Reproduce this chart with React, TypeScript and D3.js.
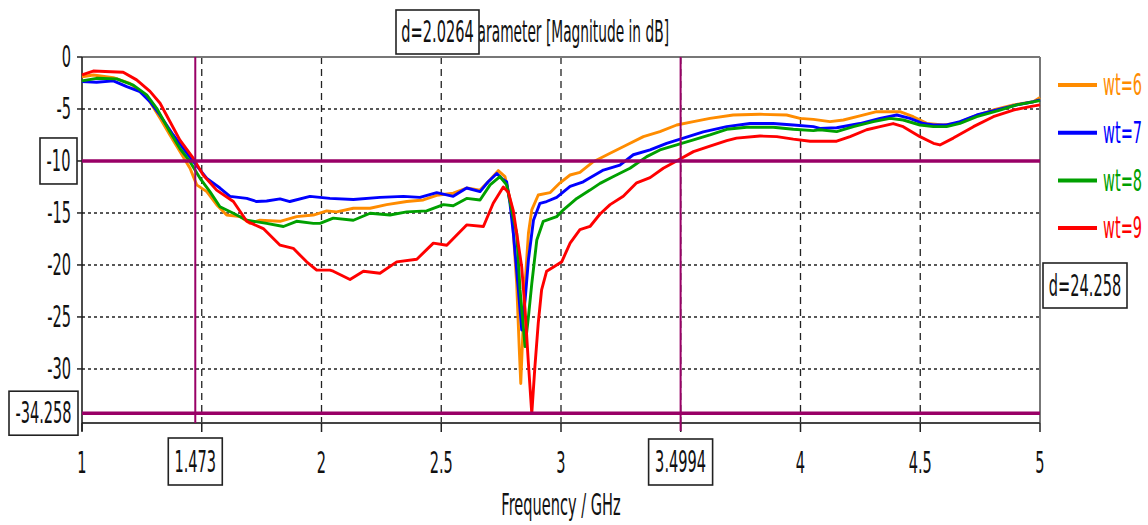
import React from "react";
import * as d3 from "d3";

// ---- data (GHz, dB) ----
const wt6: [number, number][] = [[1.0,-1.9],[1.047,-1.73],[1.131,-1.99],[1.2,-2.53],[1.27,-3.8],[1.326,-5.9],[1.367,-7.5],[1.409,-9.1],[1.451,-10.7],[1.479,-12.3],[1.521,-12.95],[1.562,-14.2],[1.604,-15.2],[1.66,-15.35],[1.701,-16.0],[1.743,-15.7],[1.827,-15.8],[1.896,-15.35],[1.966,-15.2],[2.022,-14.8],[2.063,-14.9],[2.133,-14.55],[2.203,-14.55],[2.272,-14.2],[2.356,-13.9],[2.425,-13.75],[2.481,-13.3],[2.55,-13.1],[2.606,-12.6],[2.662,-12.8],[2.704,-11.8],[2.738,-10.93],[2.766,-11.5],[2.794,-14.4],[2.815,-21.8],[2.826,-28.2],[2.832,-31.4],[2.84,-26.9],[2.85,-21.8],[2.864,-16.95],[2.878,-14.7],[2.905,-13.27],[2.954,-13.05],[2.996,-12.1],[3.038,-11.35],[3.079,-11.1],[3.135,-10.07],[3.205,-9.26],[3.274,-8.46],[3.344,-7.66],[3.413,-7.18],[3.483,-6.54],[3.553,-6.22],[3.622,-5.9],[3.719,-5.58],[3.831,-5.51],[3.942,-5.58],[3.998,-5.9],[4.054,-6.0],[4.123,-6.22],[4.179,-6.06],[4.248,-5.67],[4.318,-5.26],[4.415,-5.26],[4.471,-5.74],[4.527,-6.38],[4.596,-6.54],[4.652,-6.38],[4.722,-5.74],[4.805,-5.1],[4.889,-4.6],[4.972,-4.3],[5.0,-3.9]];
const wt7: [number, number][] = [[1.0,-2.37],[1.061,-2.43],[1.131,-2.3],[1.187,-2.85],[1.242,-3.33],[1.284,-4.3],[1.326,-5.6],[1.381,-7.5],[1.423,-8.8],[1.465,-10.07],[1.521,-11.67],[1.576,-12.6],[1.618,-13.4],[1.688,-13.6],[1.729,-13.9],[1.771,-13.85],[1.827,-13.65],[1.868,-13.9],[1.952,-13.4],[2.035,-13.6],[2.133,-13.7],[2.244,-13.5],[2.342,-13.4],[2.411,-13.5],[2.481,-13.05],[2.55,-13.4],[2.606,-12.6],[2.662,-12.95],[2.696,-12.0],[2.732,-11.2],[2.759,-11.8],[2.773,-12.0],[2.787,-14.07],[2.801,-16.95],[2.822,-22.4],[2.836,-26.25],[2.85,-23.4],[2.864,-19.5],[2.885,-15.7],[2.912,-14.07],[2.94,-13.9],[2.982,-13.5],[3.038,-12.45],[3.093,-12.0],[3.107,-11.8],[3.177,-10.87],[3.246,-10.4],[3.302,-9.4],[3.372,-8.94],[3.441,-8.3],[3.511,-7.8],[3.594,-7.2],[3.692,-6.7],[3.789,-6.4],[3.886,-6.4],[3.97,-6.54],[4.054,-6.7],[4.081,-6.86],[4.151,-6.8],[4.248,-6.4],[4.332,-5.9],[4.402,-5.58],[4.457,-5.9],[4.513,-6.4],[4.555,-6.54],[4.61,-6.54],[4.666,-6.22],[4.736,-5.58],[4.819,-5.1],[4.903,-4.6],[4.972,-4.3],[5.0,-4.13]];
const wt8: [number, number][] = [[1.0,-2.3],[1.061,-2.05],[1.145,-2.1],[1.214,-2.7],[1.27,-3.65],[1.312,-4.93],[1.367,-7.2],[1.409,-8.8],[1.451,-10.07],[1.493,-11.67],[1.534,-12.95],[1.576,-14.4],[1.632,-15.03],[1.688,-15.7],[1.771,-16.0],[1.841,-16.3],[1.896,-15.8],[1.966,-16.0],[1.994,-16.0],[2.049,-15.5],[2.133,-15.7],[2.203,-15.03],[2.286,-15.2],[2.356,-14.9],[2.439,-14.8],[2.509,-14.2],[2.55,-14.3],[2.606,-13.6],[2.662,-13.75],[2.704,-12.3],[2.745,-11.5],[2.773,-12.3],[2.801,-15.5],[2.815,-16.95],[2.829,-22.4],[2.85,-27.85],[2.864,-25.0],[2.878,-21.8],[2.899,-17.6],[2.926,-15.8],[2.982,-15.35],[3.01,-14.7],[3.066,-13.6],[3.121,-12.8],[3.163,-12.15],[3.219,-11.5],[3.288,-10.7],[3.358,-9.58],[3.413,-8.94],[3.483,-8.46],[3.553,-7.98],[3.622,-7.5],[3.692,-6.95],[3.775,-6.76],[3.886,-6.76],[3.97,-6.95],[4.054,-7.08],[4.081,-7.0],[4.151,-7.18],[4.221,-6.7],[4.304,-6.22],[4.374,-5.9],[4.429,-6.06],[4.499,-6.54],[4.555,-6.7],[4.61,-6.7],[4.666,-6.38],[4.736,-5.74],[4.833,-5.1],[4.903,-4.6],[5.0,-4.2]];
const wt9: [number, number][] = [[1.0,-1.73],[1.047,-1.35],[1.172,-1.47],[1.228,-2.2],[1.284,-3.3],[1.326,-4.45],[1.367,-6.2],[1.409,-8.0],[1.465,-9.75],[1.506,-11.35],[1.562,-12.8],[1.632,-13.9],[1.688,-15.8],[1.757,-16.5],[1.827,-18.1],[1.882,-18.4],[1.938,-19.7],[1.98,-20.5],[2.035,-20.5],[2.049,-20.6],[2.119,-21.4],[2.175,-20.6],[2.244,-20.8],[2.314,-19.7],[2.398,-19.45],[2.467,-17.9],[2.523,-18.1],[2.606,-16.15],[2.676,-16.3],[2.717,-14.07],[2.759,-12.5],[2.78,-13.0],[2.801,-14.8],[2.815,-16.95],[2.836,-20.2],[2.85,-24.3],[2.864,-29.5],[2.878,-34.3],[2.891,-29.8],[2.905,-25.6],[2.919,-22.4],[2.94,-20.6],[2.982,-20.0],[3.003,-19.7],[3.038,-17.9],[3.079,-16.6],[3.121,-16.3],[3.163,-15.1],[3.205,-14.2],[3.26,-13.4],[3.316,-12.1],[3.372,-11.6],[3.427,-10.7],[3.49,-9.9],[3.553,-9.1],[3.622,-8.56],[3.692,-8.05],[3.733,-7.8],[3.831,-7.6],[3.901,-7.66],[3.97,-7.9],[4.04,-8.1],[4.151,-8.1],[4.207,-7.66],[4.276,-7.0],[4.332,-6.7],[4.387,-6.4],[4.429,-6.7],[4.499,-7.66],[4.555,-8.3],[4.582,-8.46],[4.638,-7.8],[4.722,-6.7],[4.805,-5.74],[4.889,-5.1],[4.958,-4.78],[5.0,-4.6]];

const seriesNames = ["wt=6", "wt=7", "wt=8", "wt=9"];
const seriesData = [wt6, wt7, wt8, wt9];
const seriesColors = ["#ff8c00", "#0000ff", "#00a000", "#ff0000"];

const xTicks = [1, 1.5, 2, 2.5, 3, 3.5, 4, 4.5, 5];
const xTickLabels = ["1", "", "2", "2.5", "3", "", "4", "4.5", "5"];
const yTicks = [0, -5, -10, -15, -20, -25, -30];
const yTickLabels = ["0", "-5", "", "-15", "-20", "-25", "-30"];

const markerX1 = 1.473;
const markerX2 = 3.4994;
const markerY1 = -10;
const markerY2 = -34.258;
const title = "S-Parameter [Magnitude in dB]";
const xTitle = "Frequency / GHz";

const W = 1148, H = 525;
const L = 82, R = 1040, T = 57, B = 423;
const SX = 0.47;
const FONT = "DejaVu Sans, Verdana, sans-serif";
const MK = "#990066";

function Lbl({ x, y, text, size = 31, anchor = "middle", color = "#111" }: any) {
  return (
    <text
      transform={`translate(${x},${y}) scale(${SX},1)`}
      textAnchor={anchor}
      dominantBaseline="central"
      fontFamily={FONT}
      fontSize={size}
      fill={color}
    >
      {text}
    </text>
  );
}

function Box({ x0, y0, x1, y1, text }: any) {
  return (
    <g>
      <rect x={x0} y={y0} width={x1 - x0} height={y1 - y0} fill="#fff" stroke="#222" strokeWidth={1.6} />
      <Lbl x={(x0 + x1) / 2} y={(y0 + y1) / 2} text={text} />
    </g>
  );
}

export default function App() {
  const x = d3.scaleLinear().domain([1, 5]).range([L, R]);
  const y = d3.scaleLinear().domain([-35.2, 0]).range([B, T]);
  const line = d3
    .line<[number, number]>()
    .x((d) => x(d[0]))
    .y((d) => y(d[1]))
    .curve(d3.curveLinear);

  const mx1 = x(markerX1), mx2 = x(markerX2), my1 = y(markerY1), my2 = y(markerY2);

  return (
    <svg width={W} height={H} style={{ display: "block", position: "absolute", left: 0, top: 0, background: "#fff" }}>
      <rect x={0} y={0} width={W} height={H} fill="#fff" />
      {/* grid */}
      {xTicks.filter((t) => t > 1 && t < 5).map((t) => (
        <line key={"gx" + t} x1={x(t)} x2={x(t)} y1={T} y2={B} stroke="#222" strokeWidth={1.3} strokeDasharray="7,5" />
      ))}
      {[-5, -10, -15, -20, -25, -30].map((t) => (
        <line key={"gy" + t} x1={L} x2={R} y1={y(t)} y2={y(t)} stroke="#222" strokeWidth={1.5} strokeDasharray="3,3" />
      ))}
      {/* frame */}
      <line x1={L} x2={R} y1={T} y2={T} stroke="#777" strokeWidth={2} />
      <line x1={R} x2={R} y1={T} y2={B} stroke="#777" strokeWidth={2} />
      <line x1={L} x2={R} y1={B} y2={B} stroke="#444" strokeWidth={2} />
      <line x1={L} x2={L} y1={T} y2={B + 8} stroke="#111" strokeWidth={1.5} />
      {xTicks.map((t) => (
        <line key={"tx" + t} x1={x(t)} x2={x(t)} y1={B} y2={B + 9} stroke="#222" strokeWidth={1.5} />
      ))}
      {yTicks.map((t) => (
        <line key={"ty" + t} x1={L - 5} x2={L} y1={y(t)} y2={y(t)} stroke="#222" strokeWidth={1.5} />
      ))}
      {/* curves */}
      {seriesData.map((s, i) => (
        <path key={seriesNames[i]} d={line(s) || ""} fill="none" stroke={seriesColors[i]} strokeWidth={2.9} strokeLinejoin="round" />
      ))}
      {/* markers */}
      <line x1={L} x2={R} y1={my1} y2={my1} stroke={MK} strokeWidth={3.5} />
      <line x1={L} x2={R} y1={my2} y2={my2} stroke={MK} strokeWidth={3.5} />
      <line x1={mx1} x2={mx1} y1={T} y2={B} stroke={MK} strokeWidth={2} />
      <line x1={mx2} x2={mx2} y1={T} y2={B + 8} stroke={MK} strokeWidth={2} />
      {/* tick labels */}
      {yTicks.map((t, i) =>
        yTickLabels[i] ? <Lbl key={"ly" + t} x={71} y={y(t)} text={yTickLabels[i]} anchor="end" /> : null
      )}
      {xTicks.map((t, i) =>
        xTickLabels[i] ? <Lbl key={"lx" + t} x={x(t)} y={463} text={xTickLabels[i]} /> : null
      )}
      {/* titles */}
      <Lbl x={669} y={32} text={title} size={29.3} anchor="end" />
      <Lbl x={(L + R) / 2} y={505} text={xTitle} />
      {/* marker boxes */}
      <Box x0={40} y0={my1 - 23} x1={77} y1={my1 + 23} text={markerY1.toString()} />
      <Box x0={9} y0={my2 - 22} x1={78} y1={my2 + 22} text={markerY2.toString()} />
      <Box x0={mx1 - 27} y0={438} x1={mx1 + 27} y1={485} text={markerX1.toString()} />
      <Box x0={mx2 - 32} y0={439} x1={mx2 + 32} y1={485} text={markerX2.toString()} />
      <Box x0={396} y0={10} x1={479} y1={54} text={"d=" + (markerX2 - markerX1).toFixed(4)} />
      <Box x0={1043} y0={263} x1={1127} y1={308} text={"d=" + (markerY1 - markerY2).toFixed(3)} />
      {/* legend */}
      {seriesNames.map((n, i) => {
        const ly = 85 + i * 47.7;
        return (
          <g key={"lg" + n}>
            <line x1={1058} x2={1097} y1={ly} y2={ly} stroke={seriesColors[i]} strokeWidth={4} />
            <Lbl x={1103} y={ly} text={n} anchor="start" color={seriesColors[i]} />
          </g>
        );
      })}
    </svg>
  );
}
